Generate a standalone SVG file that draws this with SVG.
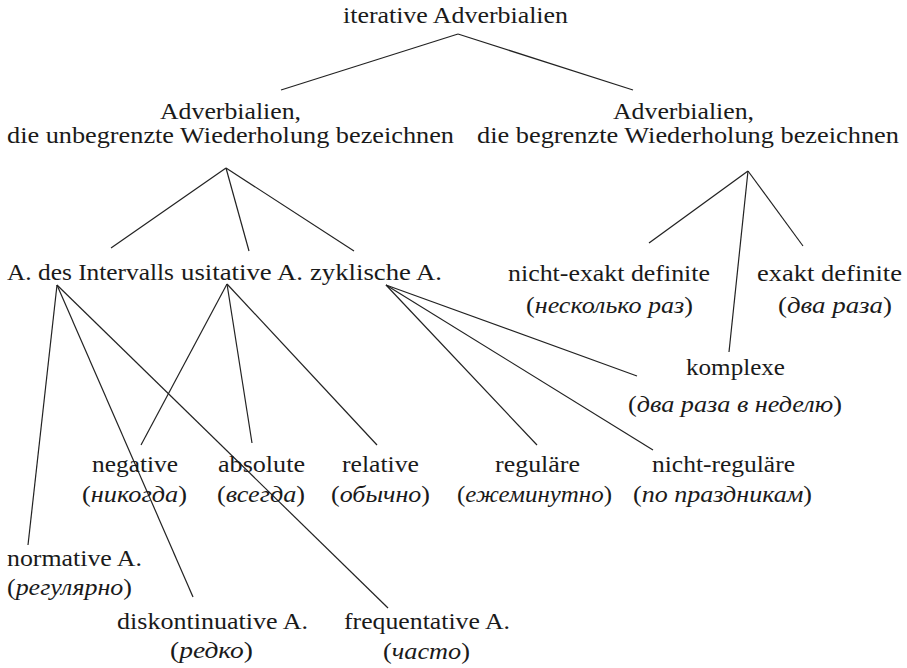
<svg xmlns="http://www.w3.org/2000/svg" width="907" height="668" viewBox="0 0 907 668">
<defs>
<style>
text{font-family:'Liberation Serif',serif;font-size:24px;fill:#1a1a1a}
.it{font-style:italic}
#connectors line{stroke:#222;stroke-width:1.2;fill:none}
</style>
</defs>
<rect width="907" height="668" fill="#fff"/>
<g id="connectors">
<line x1="458" y1="34" x2="281" y2="90"/>
<line x1="458" y1="34" x2="633" y2="90"/>
<line x1="226" y1="168" x2="111" y2="248"/>
<line x1="226" y1="168" x2="249" y2="251"/>
<line x1="226" y1="168" x2="354" y2="251"/>
<line x1="748" y1="171" x2="649" y2="243"/>
<line x1="748" y1="171" x2="803" y2="246"/>
<line x1="748" y1="171" x2="729" y2="352"/>
<line x1="57" y1="285" x2="28" y2="545"/>
<line x1="57" y1="285" x2="193" y2="597"/>
<line x1="57" y1="285" x2="388" y2="608"/>
<line x1="227" y1="284" x2="141" y2="445"/>
<line x1="227" y1="284" x2="252" y2="443"/>
<line x1="227" y1="284" x2="377" y2="445"/>
<line x1="386" y1="285" x2="637" y2="376"/>
<line x1="386" y1="285" x2="653" y2="450"/>
<line x1="386" y1="285" x2="537" y2="445"/>
</g>
<g id="nodes">
<g id="root"><text x="343" y="23" textLength="225" lengthAdjust="spacingAndGlyphs">iterative Adverbialien</text></g>
<g id="unbegrenzt">
<text x="160" y="119" textLength="141" lengthAdjust="spacingAndGlyphs">Adverbialien,</text>
<text x="7" y="143" textLength="447" lengthAdjust="spacingAndGlyphs">die unbegrenzte Wiederholung bezeichnen</text>
</g>
<g id="begrenzt">
<text x="613" y="119" textLength="141" lengthAdjust="spacingAndGlyphs">Adverbialien,</text>
<text x="477" y="143" textLength="422" lengthAdjust="spacingAndGlyphs">die begrenzte Wiederholung bezeichnen</text>
</g>
<g id="intervall"><text x="7" y="280" textLength="167" lengthAdjust="spacingAndGlyphs">A. des Intervalls</text></g>
<g id="usitativ"><text x="181" y="280" textLength="122" lengthAdjust="spacingAndGlyphs">usitative A.</text></g>
<g id="zyklisch"><text x="310" y="280" textLength="132" lengthAdjust="spacingAndGlyphs">zyklische A.</text></g>
<g id="nicht-exakt">
<text x="508" y="281" textLength="202" lengthAdjust="spacingAndGlyphs">nicht-exakt definite</text>
<text x="526" y="313" textLength="167" lengthAdjust="spacingAndGlyphs">(<tspan class="it">несколько раз</tspan>)</text>
</g>
<g id="exakt">
<text x="757" y="281" textLength="145" lengthAdjust="spacingAndGlyphs">exakt definite</text>
<text x="778" y="313" textLength="114" lengthAdjust="spacingAndGlyphs">(<tspan class="it">два раза</tspan>)</text>
</g>
<g id="komplexe">
<text x="686" y="375" textLength="99" lengthAdjust="spacingAndGlyphs">komplexe</text>
<text x="628" y="412" textLength="214" lengthAdjust="spacingAndGlyphs">(<tspan class="it">два раза в неделю</tspan>)</text>
</g>
<g id="negative">
<text x="92" y="472" textLength="86" lengthAdjust="spacingAndGlyphs">negative</text>
<text x="82" y="502" textLength="105" lengthAdjust="spacingAndGlyphs">(<tspan class="it">никогда</tspan>)</text>
</g>
<g id="absolute">
<text x="218" y="472" textLength="87" lengthAdjust="spacingAndGlyphs">absolute</text>
<text x="217" y="502" textLength="88" lengthAdjust="spacingAndGlyphs">(<tspan class="it">всегда</tspan>)</text>
</g>
<g id="relative">
<text x="342" y="472" textLength="77" lengthAdjust="spacingAndGlyphs">relative</text>
<text x="331" y="502" textLength="99" lengthAdjust="spacingAndGlyphs">(<tspan class="it">обычно</tspan>)</text>
</g>
<g id="regulaere">
<text x="495" y="472" textLength="85" lengthAdjust="spacingAndGlyphs">reguläre</text>
<text x="457" y="502" textLength="155" lengthAdjust="spacingAndGlyphs">(<tspan class="it">ежеминутно</tspan>)</text>
</g>
<g id="nicht-regulaere">
<text x="652" y="472" textLength="143" lengthAdjust="spacingAndGlyphs">nicht-reguläre</text>
<text x="633" y="502" textLength="179" lengthAdjust="spacingAndGlyphs">(<tspan class="it">по праздникам</tspan>)</text>
</g>
<g id="normativ">
<text x="7" y="566" textLength="135" lengthAdjust="spacingAndGlyphs">normative A.</text>
<text x="7" y="595" textLength="125" lengthAdjust="spacingAndGlyphs">(<tspan class="it">регулярно</tspan>)</text>
</g>
<g id="diskontinuativ">
<text x="117" y="629" textLength="191" lengthAdjust="spacingAndGlyphs">diskontinuative A.</text>
<text x="170" y="658" textLength="83" lengthAdjust="spacingAndGlyphs">(<tspan class="it">редко</tspan>)</text>
</g>
<g id="frequentativ">
<text x="344" y="629" textLength="166" lengthAdjust="spacingAndGlyphs">frequentative A.</text>
<text x="383" y="659" textLength="87" lengthAdjust="spacingAndGlyphs">(<tspan class="it">часто</tspan>)</text>
</g>
</g>
</svg>
